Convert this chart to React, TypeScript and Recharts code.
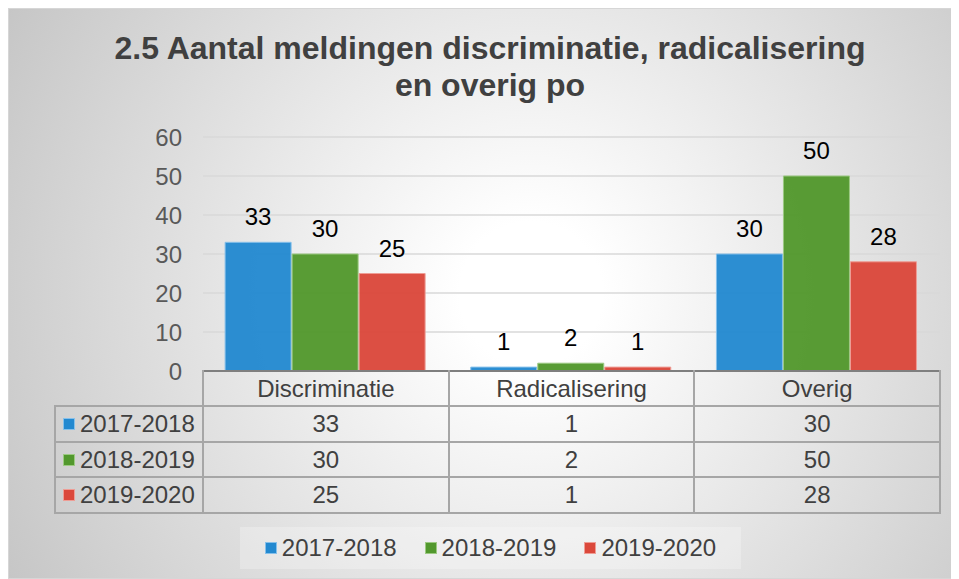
import React from "react";
import { BarChart, Bar, XAxis, YAxis, CartesianGrid, LabelList, Legend } from "recharts";

const categories = ["Discriminatie", "Radicalisering", "Overig"];
const seriesNames = ["2017-2018", "2018-2019", "2019-2020"];
const values2017 = [33, 1, 30];
const values2018 = [30, 2, 50];
const values2019 = [25, 1, 28];
const yTicks = [0, 10, 20, 30, 40, 50, 60];

const colors = ["#2389d0", "#52982d", "#db483b"];
const edges = ["#86c0ea", "#9cc982", "#ee9d95"];

const seriesValues = [values2017, values2018, values2019];
const data = categories.map((name, i) => ({
  name,
  s0: values2017[i],
  s1: values2018[i],
  s2: values2019[i],
}));

const W = 951;
const H = 571;
const plotLeft = 195;
const plotRight = 932;
const plotTop = 129;
const plotBottom = 363;
const yAxisWidth = 60;
const xAxisHeight = 35;
const tableLeft = 47;
const rowLines = [398, 434, 469, 505];
const colW = (plotRight - plotLeft) / categories.length;

const lineColor = "#a6a6a6";
const textColor = "#404040";
const font = '"Liberation Sans", Arial, sans-serif';

const hLine = (y: number, x1: number, x2: number, key: string) => (
  <div key={key} style={{ position: "absolute", left: x1 - 1, top: y - 1, width: x2 - x1 + 2, height: 2, background: lineColor }} />
);
const vLine = (x: number, y1: number, y2: number, key: string) => (
  <div key={key} style={{ position: "absolute", left: x - 1, top: y1 - 1, width: 2, height: y2 - y1 + 2, background: lineColor }} />
);

const Swatch = ({ i }: { i: number }) => (
  <span style={{ display: "inline-block", width: 10, height: 10, background: colors[i], border: `1px solid ${edges[i]}`, marginRight: 5 }} />
);

const LegendBox = ({ payload }: any) => (
  <div style={{ width: "100%", height: "100%", background: "rgba(255,255,255,0.25)", display: "flex", alignItems: "center", justifyContent: "center", fontSize: 24, color: textColor }}>
    {(payload || []).map((p: any, i: number) => (
      <span key={p.value} style={{ display: "flex", alignItems: "center", marginLeft: i === 0 ? 0 : 28 }}>
        <Swatch i={i} />
        {p.value}
      </span>
    ))}
  </div>
);

export default function App() {
  return (
    <div
      style={{
        position: "relative",
        width: W,
        height: H,
        fontFamily: font,
        background: "radial-gradient(circle at 55% 50%, #ffffff 12%, #c6c6c6 100%)",
        outline: "1px solid #d6d6d6",
        outlineOffset: -1,
      }}
    >
      <div
        style={{
          position: "absolute",
          left: 97,
          top: 22,
          width: 770,
          textAlign: "center",
          fontSize: 32,
          lineHeight: "37px",
          fontWeight: "bold",
          color: textColor,
        }}
      >
        2.5 Aantal meldingen discriminatie, radicalisering en overig po
      </div>

      <div style={{ position: "absolute", left: 0, top: 0 }}>
        <BarChart
          width={W}
          height={H}
          data={data}
          margin={{ top: plotTop, right: W - plotRight, left: plotLeft - yAxisWidth, bottom: H - plotBottom - xAxisHeight }}
          barCategoryGap="9%"
          barGap={1}
        >
          <CartesianGrid vertical={false} stroke="#d9d9d9" strokeWidth={1.5} />
          <YAxis
            width={yAxisWidth}
            domain={[0, 60]}
            ticks={yTicks}
            axisLine={false}
            tickLine={false}
            tickSize={0}
            tickMargin={21}
            tick={{ fill: "#595959", fontSize: 24, fontFamily: font }}
          />
          <XAxis
            dataKey="name"
            height={xAxisHeight}
            interval={0}
            tickLine={false}
            tickSize={0}
            tickMargin={9}
            axisLine={{ stroke: "#7f7f7f", strokeWidth: 2 }}
            tick={{ fill: textColor, fontSize: 24, fontFamily: font }}
          />
          {seriesNames.map((s, i) => (
            <Bar
              key={s}
              dataKey={`s${i}`}
              name={s}
              fill={colors[i]}
              fillOpacity={0.96}
              stroke={edges[i]}
              strokeWidth={1}
              isAnimationActive={false}
            >
              <LabelList dataKey={`s${i}`} position="top" offset={17} fill="#000000" fontSize={24} fontFamily={font} />
            </Bar>
          ))}
          <Legend
            layout="horizontal"
            verticalAlign="middle"
            align="center"
            wrapperStyle={{ left: 232, top: 519, width: 501, height: 42 }}
            content={<LegendBox />}
          />
        </BarChart>
      </div>

      <div style={{ position: "absolute", left: 0, top: 0, width: W, height: H, pointerEvents: "none" }}>
        {rowLines.map((y, k) => hLine(y, tableLeft, plotRight, `h${k}`))}
        {vLine(tableLeft, rowLines[0], rowLines[3], "v0")}
        {[0, 1, 2, 3].map((c) => vLine(plotLeft + c * colW, plotBottom, rowLines[3], `vc${c}`))}
        {seriesNames.map((s, r) => (
          <React.Fragment key={s}>
            <div
              style={{
                position: "absolute",
                left: tableLeft + 8,
                top: rowLines[r],
                height: rowLines[r + 1] - rowLines[r],
                display: "flex",
                alignItems: "center",
                fontSize: 24,
                color: textColor,
              }}
            >
              <Swatch i={r} />
              {s}
            </div>
            {categories.map((c, ci) => (
              <div
                key={c}
                style={{
                  position: "absolute",
                  left: plotLeft + ci * colW,
                  width: colW,
                  top: rowLines[r],
                  height: rowLines[r + 1] - rowLines[r],
                  display: "flex",
                  alignItems: "center",
                  justifyContent: "center",
                  fontSize: 24,
                  color: textColor,
                }}
              >
                {seriesValues[r][ci]}
              </div>
            ))}
          </React.Fragment>
        ))}
      </div>
    </div>
  );
}
